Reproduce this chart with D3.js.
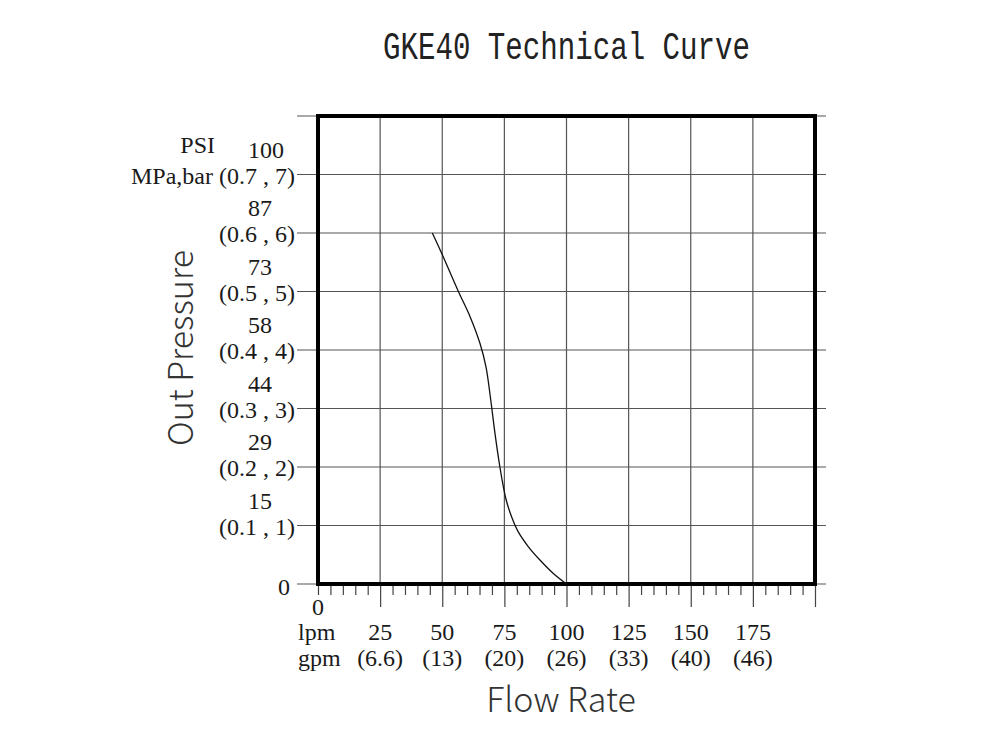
<!DOCTYPE html>
<html>
<head>
<meta charset="utf-8">
<title>GKE40 Technical Curve</title>
<style>
  body { margin: 0; background: #fff; }
  svg { display: block; }
  .serif { font-family: "Liberation Serif", "DejaVu Serif", serif; fill: #1a1a1a; }
</style>
</head>
<body>
<div id="chart"></div>
<script src="https://d3js.org/d3.v7.min.js"></script>
<script>
// x axis: flow rate (lpm), with gpm equivalents
const flowTicks = [25, 50, 75, 100, 125, 150, 175];
const flowGpm = ["(6.6)", "(13)", "(20)", "(26)", "(33)", "(40)", "(46)"];

// y axis: out pressure (bar), with PSI and MPa,bar labels
const pressureTicks = [1, 2, 3, 4, 5, 6, 7];
const pressurePsi = ["15", "29", "44", "58", "73", "87", "100"];
const pressureMpaBar = ["(0.1 , 1)", "(0.2 , 2)", "(0.3 , 3)", "(0.4 , 4)", "(0.5 , 5)", "(0.6 , 6)", "(0.7 , 7)"];

// curve
const curveFlow     = [46, 49.8, 56.5, 61.2, 65.2, 67.6, 69.5, 71.2, 73.2, 74.6, 75.7, 77.9, 80.6, 84.6, 89.3, 94.7, 100];
const curvePressure = [6.0, 5.65, 5.0, 4.57, 4.11, 3.71, 3.15, 2.58, 2.0, 1.66, 1.44, 1.15, 0.89, 0.64, 0.41, 0.18, 0];

const width = 1000, height = 750;
const svg = d3.select('#chart').append('svg')
    .attr('width', width)
    .attr('height', height);

const x = d3.scaleLinear().domain([0, 200]).range([318, 815]);
const y = d3.scaleLinear().domain([0, 8]).range([584, 116]);

// title
svg.append('text')
    .attr('x', 383).attr('y', 59)
    .attr('textLength', 367)
    .attr('lengthAdjust', 'spacingAndGlyphs')
    .style('font-family', '"Liberation Mono", "DejaVu Sans Mono", monospace')
    .style('font-size', '38px')
    .style('fill', '#222')
    .text('GKE40 Technical Curve');

// horizontal grid lines (extend past the frame as ticks)
const gridY = d3.range(0, 9);
svg.append('g')
    .selectAll('line')
    .data(gridY)
    .enter()
    .append('line')
    .attr('x1', 297).attr('x2', 826)
    .attr('y1', d => y(d)).attr('y2', d => y(d))
    .style('stroke', '#555')
    .style('stroke-width', 1.2);

// vertical grid lines
svg.append('g')
    .selectAll('line')
    .data(flowTicks)
    .enter()
    .append('line')
    .attr('x1', d => x(d)).attr('x2', d => x(d))
    .attr('y1', y(8)).attr('y2', y(0))
    .style('stroke', '#555')
    .style('stroke-width', 1.2);

// bottom axis ticks: minor every 5 lpm, major every 25
const xAxis = d3.axisBottom(x)
    .tickValues(d3.range(0, 201, 5))
    .tickSize(11)
    .tickFormat('');
const xg = svg.append('g')
    .attr('transform', `translate(0,${y(0)})`)
    .call(xAxis);
xg.select('.domain').remove();
xg.selectAll('.tick line')
    .attr('y2', d => (d % 25 === 0 && d > 0) ? 23 : 11)
    .style('stroke', '#444')
    .style('stroke-width', 1.2);

// thick frame
svg.append('rect')
    .attr('x', x(0)).attr('y', y(8))
    .attr('width', x(200) - x(0))
    .attr('height', y(0) - y(8))
    .style('fill', 'none')
    .style('stroke', '#000')
    .style('stroke-width', 4);

// curve
const line = d3.line()
    .x(d => x(d[0]))
    .y(d => y(d[1]))
    .curve(d3.curveCatmullRom.alpha(0.5));
svg.append('path')
    .datum(d3.zip(curveFlow, curvePressure))
    .attr('d', line)
    .style('fill', 'none')
    .style('stroke', '#111')
    .style('stroke-width', 1.3);

// y labels
const yl = svg.append('g').attr('class', 'serif').style('font-size', '24px');
yl.selectAll('text.mpa')
    .data(pressureTicks)
    .enter()
    .append('text')
    .attr('class', 'mpa')
    .attr('x', 295)
    .attr('y', d => y(d) + 9)
    .attr('text-anchor', 'end')
    .text((d, i) => pressureMpaBar[i]);
yl.selectAll('text.psi')
    .data(pressureTicks)
    .enter()
    .append('text')
    .attr('class', 'psi')
    .attr('x', 248)
    .attr('y', d => y(d) - 17)
    .text((d, i) => pressurePsi[i]);
yl.append('text').attr('x', 290).attr('y', y(0) + 11).attr('text-anchor', 'end').text('0');
yl.append('text').attr('x', 215).attr('y', y(7) - 22).attr('text-anchor', 'end').text('PSI');
yl.append('text').attr('x', 213).attr('y', y(7) + 9).attr('text-anchor', 'end').text('MPa,bar');

// x labels
const xl = svg.append('g').attr('class', 'serif').style('font-size', '24px');
xl.selectAll('text.lpm')
    .data(flowTicks)
    .enter()
    .append('text')
    .attr('class', 'lpm')
    .attr('x', d => x(d))
    .attr('y', 640)
    .attr('text-anchor', 'middle')
    .text(d => d);
xl.selectAll('text.gpm')
    .data(flowTicks)
    .enter()
    .append('text')
    .attr('class', 'gpm')
    .attr('x', d => x(d))
    .attr('y', 666)
    .attr('text-anchor', 'middle')
    .text((d, i) => flowGpm[i]);
xl.append('text').attr('x', x(0)).attr('y', 615).attr('text-anchor', 'middle').text('0');
xl.append('text').attr('x', 298).attr('y', 640).text('lpm');
xl.append('text').attr('x', 298).attr('y', 666).text('gpm');

// axis titles
const titleFont = '"Noto Sans CJK SC", "Noto Sans", sans-serif';
svg.append('text')
    .attr('transform', 'translate(193,348) rotate(-90)')
    .attr('text-anchor', 'middle')
    .style('font-family', titleFont)
    .style('font-weight', 300)
    .style('font-size', '34px')
    .style('fill', '#333')
    .text('Out Pressure');
svg.append('text')
    .attr('x', 561).attr('y', 712)
    .attr('text-anchor', 'middle')
    .style('font-family', titleFont)
    .style('font-weight', 300)
    .style('font-size', '34px')
    .style('fill', '#333')
    .text('Flow Rate');
</script>
</body>
</html>
